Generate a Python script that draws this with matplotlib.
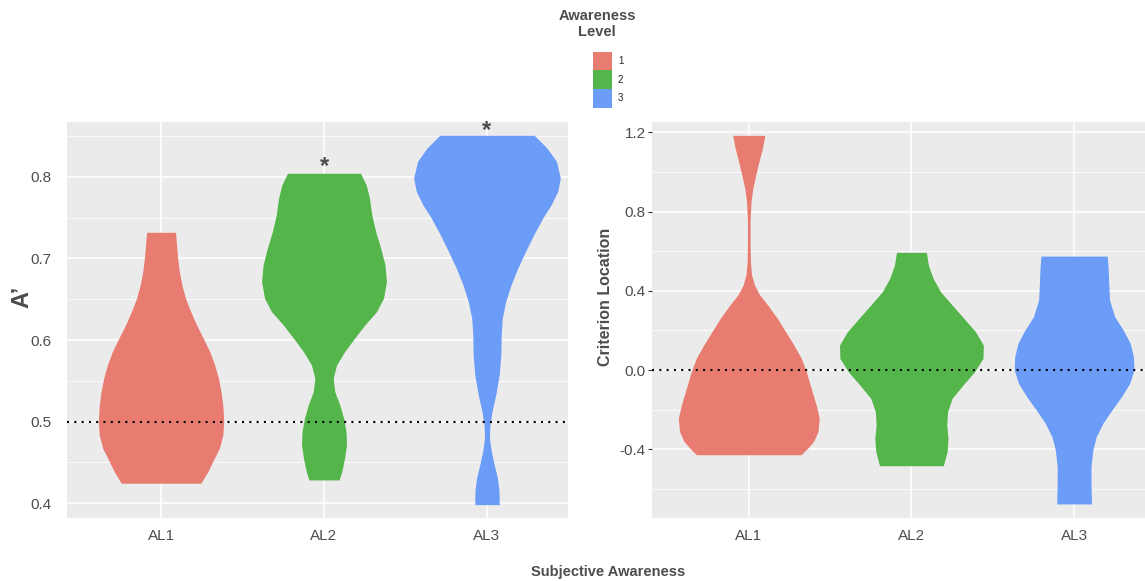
import matplotlib
matplotlib.use("Agg")
import matplotlib.pyplot as plt
from matplotlib.patches import Rectangle
from matplotlib.ticker import MultipleLocator

plt.rcParams['font.family'] = ['Liberation Sans', 'DejaVu Sans']

# ---------------- data ----------------
categories = ["AL1", "AL2", "AL3"]
legend_labels = ["1", "2", "3"]
colors = ["#E97C70", "#54B54A", "#6A9CF8"]

# Left panel (A') violin profiles: y values and half-widths (category units)
a_al1_y = [0.7319, 0.7164, 0.7001, 0.6837, 0.6674, 0.6511, 0.6347, 0.6184, 0.6021, 0.5857,
           0.5694, 0.5531, 0.5367, 0.5204, 0.5000, 0.4837, 0.4674, 0.4552, 0.4388, 0.4246]
a_al1_w = [0.089, 0.095, 0.102, 0.112, 0.128, 0.150, 0.182, 0.218, 0.259, 0.299,
           0.329, 0.352, 0.368, 0.379, 0.385, 0.379, 0.358, 0.327, 0.287, 0.244]

a_al2_y = [0.8042, 0.7898, 0.7735, 0.7531, 0.7327, 0.7123, 0.6919, 0.6714, 0.6511, 0.6347,
           0.6184, 0.6021, 0.5857, 0.5694, 0.5531, 0.5367, 0.5204, 0.5042, 0.4878, 0.4715,
           0.4552, 0.4388, 0.4286]
a_al2_w = [0.224, 0.259, 0.279, 0.293, 0.317, 0.348, 0.374, 0.383, 0.365, 0.322,
           0.250, 0.187, 0.126, 0.077, 0.056, 0.066, 0.097, 0.120, 0.135, 0.138,
           0.126, 0.109, 0.092]

a_al3_y = [0.8507, 0.8351, 0.8189, 0.7984, 0.7821, 0.7657, 0.7494, 0.7290, 0.7087, 0.6882,
           0.6678, 0.6474, 0.6270, 0.6065, 0.5821, 0.5576, 0.5331, 0.5127, 0.4963, 0.4800,
           0.4638, 0.4474, 0.4311, 0.4148, 0.3984]
a_al3_w = [0.290, 0.368, 0.426, 0.450, 0.434, 0.394, 0.342, 0.287, 0.237, 0.189,
           0.148, 0.115, 0.094, 0.087, 0.085, 0.075, 0.054, 0.031, 0.018, 0.015,
           0.026, 0.044, 0.064, 0.074, 0.075]

# Right panel (criterion location) violin profiles
c_al1_y = [1.1847, 1.1206, 1.0535, 0.9859, 0.9187, 0.8516, 0.7506, 0.6497, 0.5487, 0.4811,
           0.4306, 0.3801, 0.3296, 0.2625, 0.1954, 0.1277, 0.0606, -0.0066, -0.0909, -0.1752,
           -0.2423, -0.3094, -0.3599, -0.3937, -0.4276]
c_al1_w = [0.099, 0.084, 0.063, 0.043, 0.025, 0.014, 0.008, 0.008, 0.010, 0.017,
           0.034, 0.066, 0.115, 0.174, 0.225, 0.276, 0.322, 0.353, 0.383, 0.414,
           0.433, 0.426, 0.399, 0.363, 0.322]

c_al2_y = [0.594, 0.530, 0.463, 0.395, 0.328, 0.261, 0.193, 0.126, 0.059, -0.009,
           -0.076, -0.143, -0.210, -0.278, -0.345, -0.412, -0.483]
c_al2_w = [0.092, 0.104, 0.133, 0.179, 0.250, 0.322, 0.394, 0.442, 0.440, 0.388,
           0.317, 0.250, 0.222, 0.217, 0.225, 0.219, 0.196]

c_al3_y = [0.575, 0.505, 0.438, 0.353, 0.269, 0.202, 0.135, 0.067, 0.000, -0.067,
           -0.135, -0.202, -0.269, -0.337, -0.404, -0.488, -0.572, -0.676]
c_al3_w = [0.204, 0.210, 0.213, 0.218, 0.250, 0.302, 0.345, 0.365, 0.368, 0.342,
           0.291, 0.232, 0.177, 0.136, 0.115, 0.104, 0.104, 0.107]

# significance markers (left panel): category index, y position
sig_cats = [2, 3]
sig_y = [0.812, 0.856]

a_ref = 0.5
c_ref = 0.0

a_ticks = [0.4, 0.5, 0.6, 0.7, 0.8]
c_ticks = [-0.4, 0.0, 0.4, 0.8, 1.2]

# ---------------- figure ----------------
W, H = 1145, 581
fig = plt.figure(figsize=(W / 100, H / 100), dpi=100)

def fx(px):
    return px / W

def fy(py):
    return 1 - py / H

axL = fig.add_axes([fx(67), fy(518), fx(568) - fx(67), fy(122) - fy(518)])
axR = fig.add_axes([fx(652), fy(518), fx(1145) - fx(652), fy(122) - fy(518)])

tick_color = "#4d4d4d"
bg = "#EBEBEB"

def style(ax, ypad, ticklen):
    ax.set_facecolor(bg)
    for s in ax.spines.values():
        s.set_visible(False)
    ax.grid(True, which="major", color="white", lw=1.1)
    ax.grid(True, which="minor", axis="y", color="white", lw=0.55)
    ax.set_axisbelow(True)
    ax.tick_params(axis="y", which="major", labelsize=11, labelcolor=tick_color,
                   color="#333333", length=ticklen, width=0.8, pad=ypad)
    ax.tick_params(axis="x", which="major", labelsize=11, labelcolor=tick_color,
                   color="#333333", length=0, pad=8)
    ax.tick_params(which="minor", length=0)

left_profiles = [(a_al1_y, a_al1_w), (a_al2_y, a_al2_w), (a_al3_y, a_al3_w)]
right_profiles = [(c_al1_y, c_al1_w), (c_al2_y, c_al2_w), (c_al3_y, c_al3_w)]

for ax, profiles in [(axL, left_profiles), (axR, right_profiles)]:
    for i, (ys, ws) in enumerate(profiles):
        xc = i + 1
        left = [xc - w for w in ws]
        right = [xc + w for w in ws]
        ax.fill_betweenx(ys, left, right, color=colors[i], lw=0, zorder=2)

axL.axhline(a_ref, color="black", lw=1.5, ls=(0, (1, 2.5)), zorder=3)
axR.axhline(c_ref, color="black", lw=1.5, ls=(0, (1, 2.5)), zorder=3)

for c, y in zip(sig_cats, sig_y):
    axL.text(c, y, "*", ha="center", va="center", fontsize=17, fontweight="bold",
             color="#4d4d4d", zorder=4)

axL.set_xlim(0.423, 3.497)
axL.set_ylim(0.382, 0.867)
axL.set_xticks([1, 2, 3])
axL.set_xticklabels(categories)
axL.set_yticks(a_ticks)
axL.set_yticklabels([f"{t:.1f}" for t in a_ticks])
axL.yaxis.set_minor_locator(MultipleLocator(0.05))
style(axL, 11, 0)

axR.set_xlim(0.405, 3.436)
axR.set_ylim(-0.747, 1.252)
axR.set_xticks([1, 2, 3])
axR.set_xticklabels(categories)
axR.set_yticks(c_ticks)
axR.set_yticklabels([f"{t:.1f}" for t in c_ticks])
axR.yaxis.set_minor_locator(MultipleLocator(0.2))
style(axR, 1.5, 3)

fig.text(fx(22), fy(297), "A’", rotation=90, ha="center", va="center",
         fontsize=17, fontweight="bold", color="#4d4d4d")
fig.text(fx(605), fy(297), "Criterion Location", rotation=90, ha="center", va="center",
         fontsize=11.5, fontweight="bold", color="#4d4d4d")
fig.text(fx(608), fy(572), "Subjective Awareness", ha="center", va="center",
         fontsize=10.5, fontweight="bold", color="#4d4d4d")

# legend: title + stacked colour keys
fig.text(fx(597), fy(24), "Awareness\nLevel", ha="center", va="center",
         fontsize=10.5, fontweight="bold", color="#4d4d4d", linespacing=1.25)
key_x0, key_y0, key_w, key_h = 593.3, 51.7, 18.7, 18.7
for i, (c, lab) in enumerate(zip(colors, legend_labels)):
    top = key_y0 + i * key_h
    fig.add_artist(Rectangle((fx(key_x0), fy(top + key_h)), key_w / W, key_h / H,
                             transform=fig.transFigure, facecolor=c, edgecolor="none"))
    fig.text(fx(618), fy(top + key_h / 2), lab, ha="left", va="center",
             fontsize=7, color="#222222")

fig.savefig("out.png", dpi=100)
